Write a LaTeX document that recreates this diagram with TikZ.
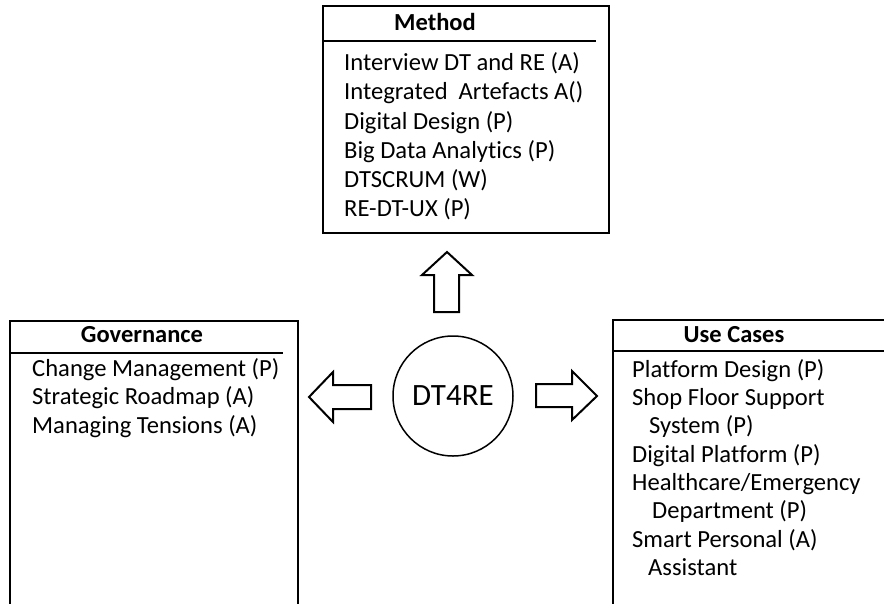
\documentclass[tikz,border=0pt]{standalone}
\usepackage{fontspec}
\setmainfont[Ligatures=NoCommon]{Carlito}
\begin{document}
\begin{tikzpicture}[x=1pt,y=-1pt,
  frame/.style={draw=black, line width=2pt, rectangle, inner sep=0pt, anchor=north west},
  rule/.style={line width=1.3pt},
  head/.style={font=\bfseries\fontsize{24.5}{29}\selectfont, anchor=base, inner sep=0pt},
  item/.style={font=\fontsize{24.6}{29}\selectfont, anchor=base west, inner sep=0pt},
  blockarrow/.style={draw=black, line width=2pt, line join=miter, fill=white}]
\useasboundingbox (0,0) rectangle (884,603);
\clip (0,0) rectangle (884,603);

% Method box
\node[frame, minimum width=286pt, minimum height=227pt] (method) at (322,5) {};
\draw[rule] (322,41) -- (596,41);
\node[head] (mhead) at (435,30) {Method};
\node[item] (m1) at (344,70) {Interview DT and RE (A)};
\node[item] (m2) at (344,99) {Integrated\hspace{0.45em}Artefacts A()};
\node[item] (m3) at (344,129) {Digital Design (P)};
\node[item] (m4) at (344,158) {Big Data Analytics (P)};
\node[item] (m5) at (344,187) {DTSCRUM (W)};
\node[item] (m6) at (344,216) {RE-DT-UX (P)};

% Governance box (runs past the lower edge)
\node[frame, minimum width=288pt, minimum height=290pt] (gov) at (9,320) {};
\draw[rule] (9,353) -- (283,353);
\node[head] (ghead) at (142,342) {Governance};
\node[item] (g1) at (32,376) {Change Management (P)};
\node[item] (g2) at (32,404) {Strategic Roadmap (A)};
\node[item] (g3) at (32,433) {Managing Tensions (A)};

% Use Cases box (runs past the right edge)
\node[frame, minimum width=290pt, minimum height=292pt] (use) at (612,319) {};
\draw[rule] (612,351) -- (902,351);
\node[head] (uhead) at (734,342) {Use Cases};
\node[item] (u1) at (632,377) {Platform Design (P)};
\node[item] (u2) at (632,405) {Shop Floor Support};
\node[item] (u3) at (649,433) {System (P)};
\node[item] (u4) at (632,462) {Digital Platform (P)};
\node[item] (u5) at (632,490) {Healthcare/Emergency};
\node[item] (u6) at (652,518) {Department (P)};
\node[item] (u7) at (632,547) {Smart Personal (A)};
\node[item] (u8) at (648,575) {Assistant};

% Centre
\node[draw=black, circle, line width=1.5pt, minimum size=120pt, inner sep=0pt,
      font=\fontsize{31}{36}\selectfont] (core) at (453,396) {DT4RE};

% Block arrows from the centre
\draw[blockarrow] (447,252) -- (472,275) -- (459,275) -- (459,312) -- (434,312)
  -- (434,275) -- (422,275) -- cycle;
\draw[blockarrow] (536,384) -- (572,384) -- (572,371) -- (597,396) -- (572,420)
  -- (572,407) -- (536,407) -- cycle;
\draw[blockarrow] (371,385) -- (333,385) -- (333,372) -- (309,397) -- (333,422)
  -- (333,409) -- (371,409) -- cycle;
\end{tikzpicture}
\end{document}
